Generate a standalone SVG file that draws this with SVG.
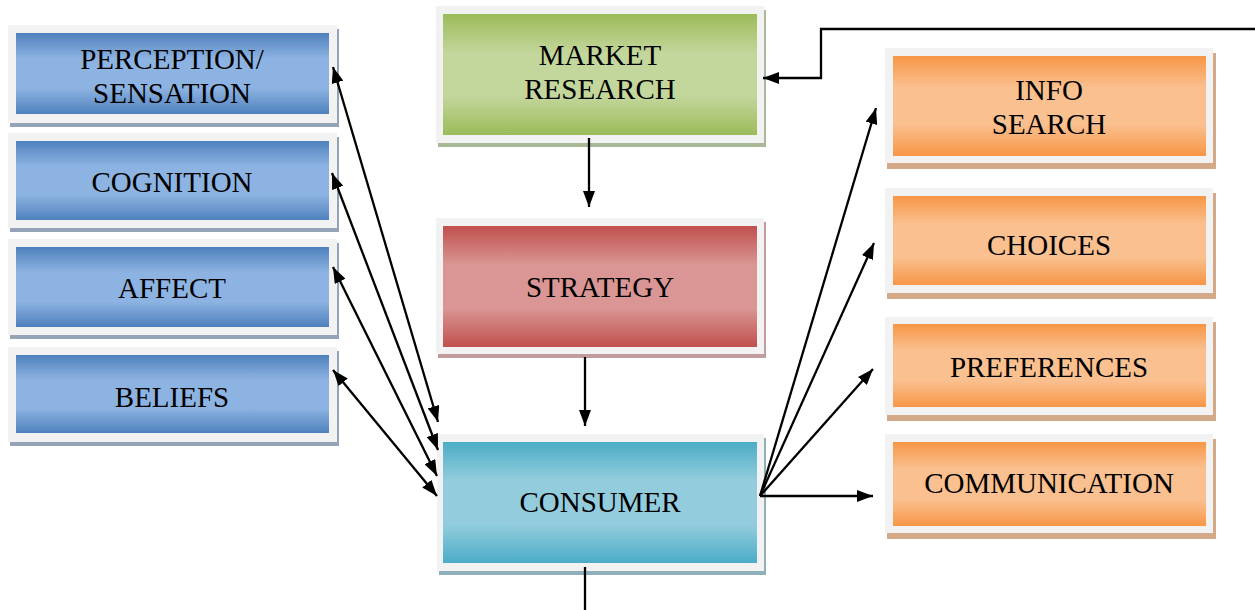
<svg xmlns="http://www.w3.org/2000/svg" width="1255" height="610" viewBox="0 0 1255 610">
<defs>
<linearGradient id="gBlue" x1="0" y1="0" x2="0" y2="1"><stop offset="0" stop-color="#4f81bd"/><stop offset="0.32" stop-color="#8db3e2"/><stop offset="0.68" stop-color="#8db3e2"/><stop offset="1" stop-color="#4f81bd"/></linearGradient>
<linearGradient id="gGreen" x1="0" y1="0" x2="0" y2="1"><stop offset="0" stop-color="#9bbb59"/><stop offset="0.32" stop-color="#c3d69b"/><stop offset="0.68" stop-color="#c3d69b"/><stop offset="1" stop-color="#9bbb59"/></linearGradient>
<linearGradient id="gRed" x1="0" y1="0" x2="0" y2="1"><stop offset="0" stop-color="#c0504d"/><stop offset="0.32" stop-color="#d99694"/><stop offset="0.68" stop-color="#d99694"/><stop offset="1" stop-color="#c0504d"/></linearGradient>
<linearGradient id="gCyan" x1="0" y1="0" x2="0" y2="1"><stop offset="0" stop-color="#4bacc6"/><stop offset="0.32" stop-color="#93cddd"/><stop offset="0.68" stop-color="#93cddd"/><stop offset="1" stop-color="#4bacc6"/></linearGradient>
<linearGradient id="gOrange" x1="0" y1="0" x2="0" y2="1"><stop offset="0" stop-color="#f79646"/><stop offset="0.32" stop-color="#fac090"/><stop offset="0.68" stop-color="#fac090"/><stop offset="1" stop-color="#f79646"/></linearGradient>
<marker id="ah" viewBox="0 0 16 12" refX="16" refY="6" markerWidth="16" markerHeight="12" markerUnits="userSpaceOnUse" orient="auto-start-reverse"><path d="M0,0 L16,6 L0,12 z" fill="#000"/></marker>
</defs>
<style>
.frame{fill:#f2f2f2}
.sb{fill:#95a3b8}.sg{fill:#a9b896}.sr{fill:#c29c9c}.sc{fill:#8fb0bb}.so{fill:#d4a98a}
text{font-family:"Liberation Serif","Times New Roman",serif;font-size:29px;fill:#000;text-anchor:middle}
.c{fill:none;stroke:#000;stroke-width:2.3}
</style>
<rect width="1255" height="610" fill="#fff"/>

<g id="perception">
<rect class="sb" x="10" y="29" width="329" height="98"/>
<rect class="frame" x="8" y="25" width="329" height="98"/>
<rect x="16" y="33" width="313" height="81" fill="url(#gBlue)"/>
<text x="172" y="69">PERCEPTION/</text>
<text x="172" y="103">SENSATION</text>
</g>
<g id="cognition">
<rect class="sb" x="10" y="137" width="329" height="95"/>
<rect class="frame" x="8" y="133" width="329" height="95"/>
<rect x="16" y="141" width="313" height="79" fill="url(#gBlue)"/>
<text x="172" y="192">COGNITION</text>
</g>
<g id="affect">
<rect class="sb" x="10" y="243" width="329" height="96"/>
<rect class="frame" x="8" y="239" width="329" height="96"/>
<rect x="16" y="247" width="313" height="80" fill="url(#gBlue)"/>
<text x="172" y="298">AFFECT</text>
</g>
<g id="beliefs">
<rect class="sb" x="10" y="351" width="329" height="95"/>
<rect class="frame" x="8" y="347" width="329" height="95"/>
<rect x="16" y="355" width="313" height="78" fill="url(#gBlue)"/>
<text x="172" y="407">BELIEFS</text>
</g>

<g id="market-research">
<rect class="sg" x="438" y="10" width="328" height="137"/>
<rect class="frame" x="436" y="6" width="328" height="137"/>
<rect x="443" y="14" width="314" height="121" fill="url(#gGreen)"/>
<text x="600" y="65">MARKET</text>
<text x="600" y="99">RESEARCH</text>
</g>
<g id="strategy">
<rect class="sr" x="438" y="222" width="328" height="136"/>
<rect class="frame" x="436" y="218" width="328" height="136"/>
<rect x="443" y="226" width="314" height="121" fill="url(#gRed)"/>
<text x="600" y="297">STRATEGY</text>
</g>
<g id="consumer">
<rect class="sc" x="439" y="438" width="327" height="137"/>
<rect class="frame" x="437" y="434" width="327" height="137"/>
<rect x="443" y="442" width="314" height="121" fill="url(#gCyan)"/>
<text x="600" y="512">CONSUMER</text>
</g>

<g id="info-search">
<rect class="so" x="887" y="53" width="329" height="116"/>
<rect class="frame" x="885" y="48" width="328" height="115"/>
<rect x="893" y="56" width="313" height="100" fill="url(#gOrange)"/>
<text x="1049" y="100">INFO</text>
<text x="1049" y="134">SEARCH</text>
</g>
<g id="choices">
<rect class="so" x="887" y="193" width="329" height="106"/>
<rect class="frame" x="885" y="188" width="328" height="105"/>
<rect x="893" y="196" width="313" height="89" fill="url(#gOrange)"/>
<text x="1049" y="255">CHOICES</text>
</g>
<g id="preferences">
<rect class="so" x="887" y="322" width="329" height="99"/>
<rect class="frame" x="885" y="317" width="328" height="98"/>
<rect x="893" y="324" width="313" height="83" fill="url(#gOrange)"/>
<text x="1049" y="377">PREFERENCES</text>
</g>
<g id="communication">
<rect class="so" x="887" y="439" width="329" height="100"/>
<rect class="frame" x="885" y="434" width="328" height="99"/>
<rect x="893" y="442" width="313" height="84" fill="url(#gOrange)"/>
<text x="1049" y="493">COMMUNICATION</text>
</g>

<g id="connectors">
<polyline class="c" points="1255,29 821,29 821,78 763,78" marker-end="url(#ah)"/>
<line class="c" x1="589" y1="138" x2="589" y2="207" marker-end="url(#ah)"/>
<line class="c" x1="585" y1="357" x2="585" y2="426" marker-end="url(#ah)"/>
<line class="c" x1="585" y1="567" x2="585" y2="610"/>
<line class="c" x1="760" y1="496" x2="876" y2="108" marker-end="url(#ah)"/>
<line class="c" x1="760" y1="496" x2="874" y2="243" marker-end="url(#ah)"/>
<line class="c" x1="760" y1="496" x2="873" y2="369" marker-end="url(#ah)"/>
<line class="c" x1="760" y1="496" x2="873" y2="496" marker-end="url(#ah)"/>
<line class="c" x1="333" y1="67" x2="438" y2="422" marker-start="url(#ah)" marker-end="url(#ah)"/>
<line class="c" x1="332" y1="173" x2="438" y2="450" marker-start="url(#ah)" marker-end="url(#ah)"/>
<line class="c" x1="333" y1="267" x2="437" y2="476" marker-start="url(#ah)" marker-end="url(#ah)"/>
<line class="c" x1="333" y1="370" x2="437" y2="496" marker-start="url(#ah)" marker-end="url(#ah)"/>
</g>
</svg>
